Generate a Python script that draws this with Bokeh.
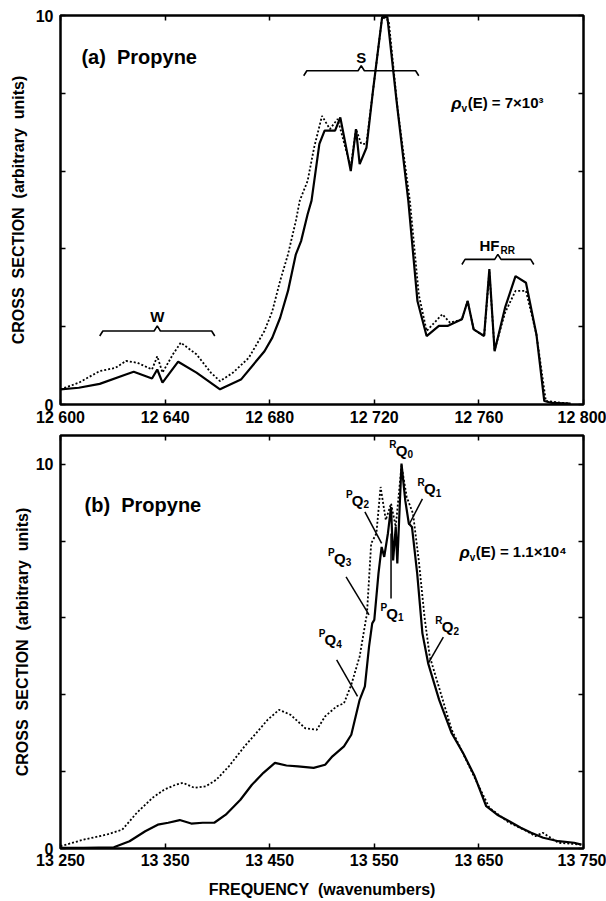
from bokeh.plotting import figure
from bokeh.models import Range1d, FixedTicker, LinearAxis, CustomJSTickFormatter
from bokeh.layouts import column
from bokeh.embed import file_html
from bokeh.resources import INLINE
from bokeh.core.properties import value

FONT = "Liberation Sans"
NB = "\u00a0"

# ---------------- panel (a) data ----------------
a_solid_x = [12600, 12607, 12615, 12625, 12628, 12635, 12637, 12639, 12645, 12652, 12661, 12669,
             12678, 12681, 12684, 12687, 12690, 12692, 12694.5, 12696, 12697.4, 12699, 12701, 12705,
             12707, 12711, 12713, 12714.4, 12717, 12719.5, 12723, 12725, 12728.5, 12733, 12736.5,
             12740, 12744.7, 12748, 12753.5, 12755.7, 12758, 12762, 12764, 12766, 12770, 12774,
             12778, 12782, 12785, 12788, 12795]
a_solid_y = [0.39, 0.43, 0.53, 0.77, 0.84, 0.67, 0.90, 0.56, 1.10, 0.82, 0.39, 0.64,
             1.37, 1.72, 2.23, 2.92, 3.86, 4.20, 4.89, 5.24, 5.92, 6.70, 7.04, 7.04,
             7.38, 6.00, 7.08, 6.18, 6.60, 8.07, 9.96, 9.96, 7.81, 5.24, 2.66,
             1.76, 2.02, 2.02, 2.19, 2.66, 1.93, 1.76, 3.48, 1.37, 2.49, 3.30,
             3.13, 1.80, 0.09, 0.04, 0.02]

a_dot_x = [12600, 12607, 12615, 12621, 12625, 12629.5, 12635, 12637, 12639, 12643, 12646, 12652,
           12657.5, 12661, 12666, 12672, 12678, 12681, 12684, 12687, 12690, 12691.5, 12694.5, 12697,
           12700, 12703, 12706, 12711, 12713, 12715, 12717, 12719.5, 12723, 12725.5, 12729, 12733.6,
           12737, 12740, 12746, 12749, 12753.5, 12755.7, 12758, 12762, 12764, 12766, 12770, 12774,
           12778, 12782, 12785.6, 12795]
a_dot_y = [0.39, 0.56, 0.86, 0.94, 1.12, 1.07, 0.90, 1.24, 0.82, 1.29, 1.59, 1.29,
           0.82, 0.60, 0.82, 1.20, 1.89, 2.40, 3.18, 3.86, 4.72, 5.24, 5.75, 6.61,
           7.42, 7.08, 7.34, 6.09, 7.08, 6.70, 6.70, 8.07, 9.96, 9.87, 7.55, 5.24,
           2.83, 1.89, 2.32, 2.10, 2.19, 2.66, 1.93, 1.76, 3.42, 1.40, 2.36, 2.92,
           2.92, 1.80, 0.09, 0.02]

a_xticks = [12600, 12640, 12680, 12720, 12760, 12800]
a_xtick_labels = ["12 600", "12 640", "12 680", "12 720", "12 760", "12 800"]

# braces in panel (a): start, end, height
a_brace_x0 = [12615, 12693, 12753.5]
a_brace_x1 = [12659, 12737, 12781]
a_brace_y = [1.89, 8.58, 3.73]
a_brace_text = ["W", "S"]

a_title = "(a)" + NB + " Propyne"
a_title_x = 12608
a_title_y = 8.93

# ---------------- panel (b) data ----------------
b_solid_x = [13250, 13272, 13301, 13316, 13331, 13343, 13353, 13364, 13375, 13386, 13397, 13408,
             13422, 13433, 13444, 13455, 13466, 13477, 13492, 13503, 13510, 13521, 13528, 13536,
             13541, 13545, 13548, 13550, 13554, 13557, 13559.5, 13563, 13566, 13568, 13570.5, 13572,
             13576, 13579.6, 13583, 13586, 13591, 13596, 13601.5, 13612, 13624, 13635, 13646, 13657,
             13667.5, 13679, 13690, 13700, 13711.5, 13726, 13741, 13748]
b_solid_y = [0.02, 0.02, 0.03, 0.19, 0.45, 0.62, 0.67, 0.74, 0.65, 0.67, 0.67, 0.88,
             1.27, 1.66, 1.97, 2.23, 2.16, 2.14, 2.10, 2.18, 2.40, 2.66, 2.96, 3.87,
             4.22, 5.26, 5.86, 5.95, 7.16, 7.85, 7.59, 8.20, 8.89, 7.50, 8.37, 7.42,
             10.02, 9.06, 8.46, 8.37, 7.16, 5.60, 4.82, 3.87, 3.00, 2.48, 1.88, 1.10,
             0.88, 0.71, 0.54, 0.41, 0.28, 0.19, 0.15, 0.10]

b_dot_x = [13250, 13272, 13294, 13309, 13323, 13338, 13349, 13360, 13367, 13378, 13389, 13399,
           13411, 13426, 13437, 13448, 13459, 13470, 13484, 13495, 13503, 13514, 13521, 13528,
           13536, 13543, 13547, 13552, 13556, 13561, 13566, 13570.5, 13576, 13581, 13587, 13592.5,
           13598, 13603, 13624, 13646, 13660, 13679, 13693, 13704, 13711, 13726, 13748]
b_dot_y = [0.06, 0.23, 0.36, 0.49, 0.93, 1.32, 1.53, 1.66, 1.71, 1.58, 1.62, 1.79,
           2.14, 2.66, 3.00, 3.35, 3.61, 3.48, 3.13, 3.09, 3.44, 3.70, 3.78, 4.26,
           5.00, 6.12, 7.94, 8.20, 9.41, 8.55, 8.98, 8.37, 9.97, 9.15, 8.72, 7.50,
           6.03, 5.00, 3.09, 1.84, 1.06, 0.67, 0.49, 0.32, 0.41, 0.15, 0.10]

b_xticks = [13250, 13350, 13450, 13550, 13650, 13750]
b_xtick_labels = ["13 250", "13 350", "13 450", "13 550", "13 650", "13 750"]

b_title = "(b)" + NB + " Propyne"
b_title_x = 13273
b_title_y = 8.94

# band labels in panel (b): superscript, subscript, label position, leader line
b_lab_sup = ["P", "P", "P", "P", "R", "R", "R"]
b_lab_sub = ["2", "3", "4", "1", "0", "1", "2"]
b_lab_x = [13534, 13517, 13508, 13567, 13576, 13603, 13620]
b_lab_y = [9.06, 7.55, 5.43, 6.12, 10.36, 9.37, 5.77]
b_lead_x0 = [13541, 13523, 13514, 13566, 13596, 13616]
b_lead_y0 = [8.76, 7.07, 4.91, 6.51, 9.10, 5.50]
b_lead_x1 = [13557, 13545, 13534, 13566, 13583, 13601.5]
b_lead_y1 = [7.94, 6.08, 3.96, 8.20, 8.42, 4.82]

# density of states labels
a_rho_rest = "(E) = 7×10³"
a_rho_x = 12755.7
a_rho_y = 7.77
b_rho_rest = "(E) = 1.1×10⁴"
b_rho_x = 13647
b_rho_y = 7.72

y_ticks = [0, 10]
y_minor = [2, 4, 6, 8]
y_tick_labels = ["0", "10"]

YLABEL = "CROSS" + NB + " SECTION" + NB + " (arbitrary" + NB + " units)"
XLABEL = "FREQUENCY" + NB + " (wavenumbers)"


def style_axis(ax, labels=True):
    ax.axis_line_color = None
    ax.major_tick_in = 5
    ax.major_tick_out = 0
    ax.minor_tick_in = 5
    ax.minor_tick_out = 0
    ax.major_tick_line_color = "black"
    ax.minor_tick_line_color = "black"
    ax.major_tick_line_width = 1.5
    ax.minor_tick_line_width = 1.5
    ax.major_label_text_font = FONT
    ax.major_label_text_font_style = "bold"
    ax.major_label_text_font_size = "16px"
    ax.major_label_text_color = "black"
    ax.axis_label_text_font = FONT
    ax.axis_label_text_font_style = "bold"
    ax.axis_label_text_font_size = "16px"
    ax.axis_label_text_color = "black"
    if not labels:
        ax.formatter = CustomJSTickFormatter(code="return ''")
        ax.major_label_text_font_size = "0px"
        ax.major_label_standoff = 0


def make_fig(xr, yr, height, ml, mt, mb, xticks, xlabels, x_standoff, ylabel_standoff, xlabel=None):
    p = figure(width=606, height=height, x_range=Range1d(*xr), y_range=Range1d(*yr),
               output_backend="svg", toolbar_location=None,
               min_border_left=ml, min_border_right=23, min_border_top=mt, min_border_bottom=mb)
    p.xgrid.visible = False
    p.ygrid.visible = False
    p.outline_line_color = "black"
    p.outline_line_width = 2.5
    p.background_fill_color = "white"
    p.border_fill_color = "white"

    xa = p.xaxis[0]
    xa.ticker = FixedTicker(ticks=xticks, minor_ticks=[])
    xa.major_label_overrides = dict(zip(xticks, xlabels))
    style_axis(xa)
    xa.major_label_standoff = x_standoff
    if xlabel is not None:
        xa.axis_label = xlabel
        xa.axis_label_standoff = 9

    ya = p.yaxis[0]
    ya.ticker = FixedTicker(ticks=y_ticks, minor_ticks=y_minor)
    ya.major_label_overrides = dict(zip(y_ticks, y_tick_labels))
    style_axis(ya)
    ya.major_label_standoff = 7
    ya.axis_label = YLABEL
    ya.axis_label_standoff = ylabel_standoff

    top = LinearAxis(ticker=FixedTicker(ticks=xticks, minor_ticks=[]))
    style_axis(top, labels=False)
    p.add_layout(top, "above")
    right = LinearAxis(ticker=FixedTicker(ticks=y_ticks, minor_ticks=y_minor))
    style_axis(right, labels=False)
    p.add_layout(right, "right")
    return p


def brace_paths(x0s, x1s, ys, dx, dy):
    xs, ys_out = [], []
    for x0, x1, y in zip(x0s, x1s, ys):
        xm = (x0 + x1) / 2
        xs.append([x0, x0 + dx, xm - dx, xm, xm + dx, x1 - dx, x1])
        ys_out.append([y - dy, y, y, y + dy, y, y, y - dy])
    return xs, ys_out


def rho_label(p, x, y, rest):
    p.text([x], [y], text=[rest], text_font=value(FONT), text_font_style="bold",
           text_font_size="15px", text_align="left", text_baseline="middle", text_color="black")
    p.text([x], [y], text=["ρ"], text_font=value(FONT), text_font_style="bold italic",
           text_font_size="17px", text_align="right", text_baseline="middle", text_color="black",
           x_offset=-6, y_offset=1)
    p.text([x], [y], text=["v"], text_font=value(FONT), text_font_style="bold",
           text_font_size="10px", text_align="right", text_baseline="middle", text_color="black",
           x_offset=-0.5, y_offset=6)


# ---------------- figure (a) ----------------
p1 = make_fig((12600, 12800), (0, 10), 430, 60, 15, 26, a_xticks, a_xtick_labels, 4, 6)

p1.line(a_dot_x, a_dot_y, line_color="black", line_width=1.8, line_dash="2 2")
p1.line(a_solid_x, a_solid_y, line_color="black", line_width=2.2)

bx, by = brace_paths(a_brace_x0, a_brace_x1, a_brace_y, 1.2, 0.13)
p1.multi_line(bx, by, line_color="black", line_width=1.6)

brace_labels_x = [(a_brace_x0[0] + a_brace_x1[0]) / 2, (a_brace_x0[1] + a_brace_x1[1]) / 2]
brace_labels_y = [a_brace_y[0] + 0.38, a_brace_y[1] + 0.35]
p1.text(brace_labels_x, brace_labels_y, text=a_brace_text, text_font=value(FONT),
        text_font_style="bold", text_font_size="15px", text_align="center", text_baseline="middle",
        text_color="black")
hf_x = (a_brace_x0[2] + a_brace_x1[2]) / 2 + 0.6
hf_y = a_brace_y[2] + 0.35
p1.text([hf_x], [hf_y], text=["HF"], text_font=value(FONT), text_font_style="bold",
        text_font_size="15px", text_align="right", text_baseline="middle", text_color="black")
p1.text([hf_x], [hf_y], text=["RR"], text_font=value(FONT), text_font_style="bold",
        text_font_size="10px", text_align="left", text_baseline="middle", text_color="black",
        x_offset=1, y_offset=5)

p1.text([a_title_x], [a_title_y], text=[a_title], text_font=value(FONT), text_font_style="bold",
        text_font_size="20px", text_align="left", text_baseline="middle", text_color="black")
rho_label(p1, a_rho_x, a_rho_y, a_rho_rest)

# ---------------- figure (b) ----------------
p2 = make_fig((13250, 13750), (0, 10.75), 470, 55, 5, 49, b_xticks, b_xtick_labels, 3, 2,
              xlabel=XLABEL)

p2.line(b_dot_x, b_dot_y, line_color="black", line_width=1.8, line_dash="2 2")
p2.line(b_solid_x, b_solid_y, line_color="black", line_width=2.2)

p2.segment(b_lead_x0, b_lead_y0, b_lead_x1, b_lead_y1, line_color="black", line_width=1.5)

p2.text(b_lab_x, b_lab_y, text=["Q"] * len(b_lab_x), text_font=value(FONT), text_font_style="bold",
        text_font_size="15px", text_align="center", text_baseline="middle", text_color="black")
p2.text(b_lab_x, b_lab_y, text=b_lab_sup, text_font=value(FONT), text_font_style="bold",
        text_font_size="10px", text_align="right", text_baseline="middle", text_color="black",
        x_offset=-5, y_offset=-6)
p2.text(b_lab_x, b_lab_y, text=b_lab_sub, text_font=value(FONT), text_font_style="bold",
        text_font_size="10px", text_align="left", text_baseline="middle", text_color="black",
        x_offset=6, y_offset=4)

p2.text([b_title_x], [b_title_y], text=[b_title], text_font=value(FONT), text_font_style="bold",
        text_font_size="20px", text_align="left", text_baseline="middle", text_color="black")
rho_label(p2, b_rho_x, b_rho_y, b_rho_rest)

layout = column(p1, p2, spacing=0)
open("out.html", "w").write(file_html(layout, INLINE))
